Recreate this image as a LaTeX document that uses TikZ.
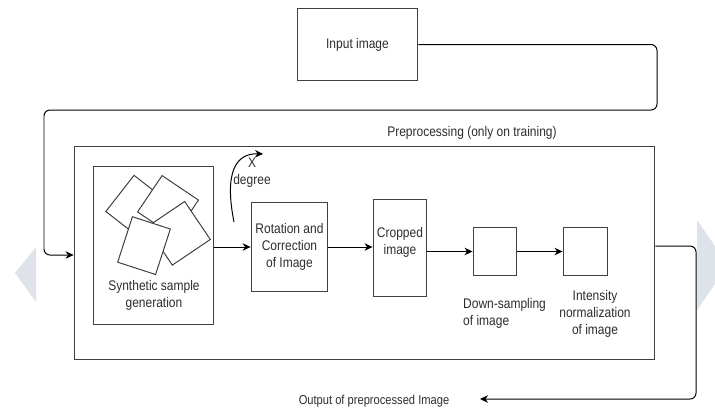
\documentclass[tikz,border=0pt]{standalone}
\usepackage{fontspec}
\setmainfont{Liberation Sans}[FakeStretch=0.86]
\usepackage{tikz}
\usetikzlibrary{arrows.meta}
\definecolor{boxline}{RGB}{64,64,64}
\definecolor{navfill}{RGB}{221,227,232}
\definecolor{txtgrey}{RGB}{45,45,45}

\begin{document}
\begin{tikzpicture}[>={Stealth[length=8bp,width=7.5bp,inset=2.5bp]},x=1bp,y=-1bp]\fontsize{14}{17}\selectfont
\tikzstyle{box}=[draw=boxline,line width=1.1pt,inner sep=0pt,text=txtgrey,align=center]
\tikzstyle{sq}=[draw=boxline,line width=1pt,fill=white,inner sep=0pt]
\tikzstyle{lbl}=[text=txtgrey,inner sep=0pt]
\tikzstyle{conn}=[->,line width=1pt,rounded corners=6pt]
\useasboundingbox (0,0) rectangle (715,408);
% faint page arrows
\fill[navfill] (15,273) -- (36,247) -- (36,302) -- cycle;
\fill[navfill] (697,220) -- (715,246) -- (715,284) -- (697,310) -- cycle;
\node[box,minimum width=121,minimum height=73] (IN) at (357.5,44.5) {Input image};
\node[box,line width=1pt,minimum width=583,minimum height=214] (PRE) at (364.5,253) {};
\node[lbl] (PL) at (472,133) {Preprocessing (only on training)};
\node[box,minimum width=121,minimum height=159] (SY) at (153.5,245.5) {};
\node[sq,minimum size=46,rotate=52] (S1) at (138,207.5) {};
\node[sq,minimum size=44,rotate=56] (S2) at (168,206) {};
\node[sq,minimum size=46,rotate=34] (S3) at (178.5,233.3) {};
\node[sq,minimum width=40,minimum height=48,rotate=-18] (S4) at (144,245.6) {};
\node[lbl,align=center] (SYL) at (154,295) {Synthetic sample\\generation};
\node[box,minimum width=77,minimum height=90] (RO) at (289.5,247) {Rotation and\\Correction\\of Image};
\node[box,minimum width=54,minimum height=98] (CR) at (400,248) {};
\node[lbl,align=center] (CRL) at (400,242.5) {Cropped\\image};
\node[box,minimum width=44,minimum height=49] (DS) at (495,251.5) {};
\node[lbl,align=left,anchor=west] (DSL) at (463,313.5) {Down-sampling\\of image};
\node[box,minimum width=45,minimum height=49] (NO) at (585.5,251.5) {};
\node[lbl,align=center] (NOL) at (595,314) {Intensity\\normalization\\of image};
\node[lbl,font=\fontsize{13}{15}\selectfont] (OUTL) at (374,401) {Output of preprocessed Image};
\coordinate (OUT) at (480,399);
\coordinate (RS) at (234,222);
\coordinate (RE) at (263,154);
\node[lbl,align=center] (XD) at (252,172.5) {X\\degree};
\draw[conn] (IN.east) -- (657,44.5) -- (657,110) -- (44,110) -- (44,255) -- (PRE.west |- 0,255);
\draw[conn] (SY.east |- RO.west) -- (RO.west);
\draw[conn] (RO.east) -- (RO.east -| CR.west);
\draw[conn] (CR.east |- DS.west) -- (DS.west);
\draw[conn] (DS.east) -- (NO.west);
\draw[conn] ([yshift=7bp]PRE.east) -- (696,246) -- (696,399) -- (OUT);
\draw[->,line width=1pt] (RS) .. controls (224,172) and (236,153) .. (RE);
\end{tikzpicture}
\end{document}
